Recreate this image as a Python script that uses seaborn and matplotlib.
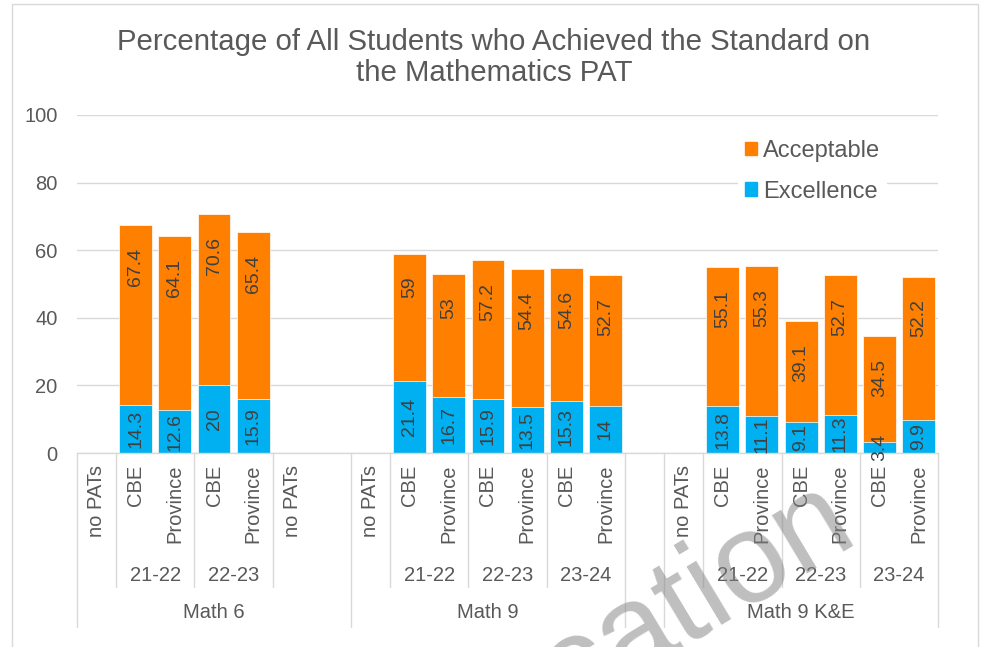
"""
Percentage of all students who achieved the standard on the Mathematics PAT.
"""

import matplotlib
matplotlib.use("Agg")
import matplotlib.pyplot as plt
from matplotlib.patches import Patch, Rectangle
import numpy as np
import pandas as pd
import seaborn as sns

TITLE = "Percentage of All Students who Achieved the Standard on\nthe Mathematics PAT"

groups = ["Math 6"] * 7 + ["Math 9"] * 7 + [""] + ["Math 9 K&E"] * 7
years = (["", "21-22", "21-22", "22-23", "22-23", "", ""]
         + ["", "21-22", "21-22", "22-23", "22-23", "23-24", "23-24"]
         + [""]
         + ["", "21-22", "21-22", "22-23", "22-23", "23-24", "23-24"])
sources = (["no PATs", "CBE", "Province", "CBE", "Province", "no PATs", ""]
           + ["no PATs", "CBE", "Province", "CBE", "Province", "CBE", "Province"]
           + [""]
           + ["no PATs", "CBE", "Province", "CBE", "Province", "CBE", "Province"])
acceptable = [None, 67.4, 64.1, 70.6, 65.4, None, None,
              None, 59, 53, 57.2, 54.4, 54.6, 52.7,
              None,
              None, 55.1, 55.3, 39.1, 52.7, 34.5, 52.2]
excellence = [None, 14.3, 12.6, 20, 15.9, None, None,
              None, 21.4, 16.7, 15.9, 13.5, 15.3, 14,
              None,
              None, 13.8, 11.1, 9.1, 11.3, 3.4, 9.9]

ORANGE = "#FF8000"
BLUE = "#00B0F0"
GRID = "#D9D9D9"
TEXT = "#595959"
LABEL = "#404040"

sns.set_style("white")
plt.rcParams["font.family"] = ["Liberation Sans", "DejaVu Sans"]

slots = [str(i) for i in range(len(sources))]
df = pd.DataFrame({
    "slot": slots,
    "Acceptable": pd.array(acceptable, dtype="float"),
    "Excellence": pd.array(excellence, dtype="float"),
})

fig = plt.figure(figsize=(9.84, 6.47), dpi=100)
ax = fig.add_axes([0.0783, 0.2998, 0.875, 0.5225])

bar_kw = dict(x="slot", order=slots, width=0.84, errorbar=None, saturation=1,
              edgecolor="white", linewidth=0.5, ax=ax)
sns.barplot(data=df, y="Acceptable", color=ORANGE, **bar_kw)
sns.barplot(data=df, y="Excellence", color=BLUE, **bar_kw)

# data labels: Acceptable at inside end, Excellence centred
for bar in ax.containers[0]:
    h = bar.get_height()
    ax.annotate(f"{h:g}", (bar.get_x() + bar.get_width() / 2, h),
                xytext=(0, -16.5), textcoords="offset points",
                rotation=90, ha="center", va="top", fontsize=14, color=LABEL)
ax.bar_label(ax.containers[1], fmt="{:g}", label_type="center",
             rotation=90, fontsize=14, color=LABEL)

ax.set_xlim(-0.5, len(slots) - 0.5)
ax.set_ylim(0, 100)
ax.set_yticks(range(0, 101, 20))
ax.yaxis.grid(True, color=GRID, lw=1)
ax.set_axisbelow(True)
ax.set_xlabel("")
ax.set_ylabel("")
ax.tick_params(axis="x", length=0, labelbottom=False)
ax.tick_params(axis="y", length=0, pad=14, labelsize=14.5, labelcolor=TEXT)
sns.despine(ax=ax, left=True)
ax.spines["bottom"].set_color(GRID)
ax.spines["bottom"].set_linewidth(1)

# multi-level category axis
xt = ax.get_xaxis_transform()
for i, s in enumerate(sources):
    if s:
        ax.text(i, -0.035, s, transform=xt, rotation=90, ha="center", va="top",
                fontsize=14.5, color=TEXT)

n = len(sources)
for i in range(n + 1):
    if i == 0 or i == n or groups[i] != groups[i - 1]:
        y_end = -0.515
    elif years[i] != years[i - 1]:
        y_end = -0.396
    else:
        continue
    ax.plot([i - 0.5, i - 0.5], [0, y_end], transform=xt, color=GRID, lw=1,
            clip_on=False)

def runs(labels):
    start = 0
    for i in range(1, len(labels) + 1):
        if i == len(labels) or labels[i] != labels[start]:
            yield labels[start], start, i - 1
            start = i

for lab, a, b in runs([g + "|" + y for g, y in zip(groups, years)]):
    yr = lab.split("|")[1]
    if yr:
        ax.text((a + b) / 2, -0.361, yr, transform=xt, ha="center", va="center",
                fontsize=14.5, color=TEXT)
for g, a, b in runs(groups):
    if g:
        ax.text((a + b) / 2, -0.473, g, transform=xt, ha="center", va="center",
                fontsize=14.5, color=TEXT)

handles = [Patch(color=ORANGE, label="Acceptable"),
           Patch(color=BLUE, label="Excellence")]
leg = ax.legend(handles=handles, loc="upper left", bbox_to_anchor=(0.768, 0.948),
                frameon=True, fancybox=False, edgecolor="none", facecolor="white",
                framealpha=1, fontsize=17, handlelength=0.5, handleheight=0.5,
                handletextpad=0.25, labelspacing=0.8, borderpad=0.3,
                borderaxespad=0)
for t in leg.get_texts():
    t.set_color(TEXT)

fig.text(0.502, 0.911, TITLE, ha="center", va="center", fontsize=21.2,
         color=TEXT, linespacing=1.15)

# chart border and watermark
fig.patches.append(Rectangle((0.0122, -0.1), 0.9817, 1.0938, transform=fig.transFigure,
                             fill=False, edgecolor=GRID, lw=1))
fig.text(0.874, 0.172, "Education", rotation=31, rotation_mode="anchor",
         ha="right", va="baseline", fontsize=92, color="#7F7F7F", alpha=0.5,
         zorder=10)

fig.savefig("out.png", dpi=100)
